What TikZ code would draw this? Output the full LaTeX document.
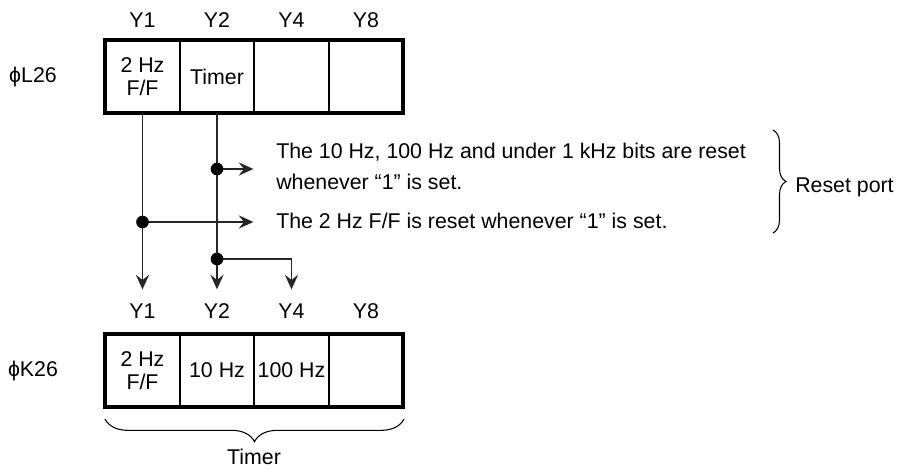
\documentclass[tikz,border=0pt]{standalone}
\usepackage{fontspec}
\setmainfont{Liberation Sans}
\usetikzlibrary{arrows.meta,decorations.pathreplacing}
\begin{document}
\begin{tikzpicture}[x=0.75pt,y=-0.75pt,
  lbl/.style={inner sep=0pt, font=\fontsize{16}{19}\selectfont},
  cell/.style={draw, line width=1.5pt, minimum width=55.9pt, minimum height=54.75pt,
    inner sep=0pt, outer sep=0pt, align=center, font=\fontsize{16}{17.25}\selectfont},
  frame/.style={line width=2.8pt},
  conn/.style={draw=black!85, line width=1.2pt},
  arr/.style={conn, -{Stealth[length=11pt,width=10pt,inset=4pt]}},
  dot/.style={circle, fill=black, inner sep=0pt, minimum size=9.5pt},
  bracestyle/.style={decorate, line width=0.8pt}
]
\useasboundingbox (0,0) rectangle (900,470);

% top register
\node[lbl] (ty1) at (142.5,20) {Y1};
\node[lbl] (ty2) at (217,20) {Y2};
\node[lbl] (ty4) at (291.5,20) {Y4};
\node[lbl] (ty8) at (366,20) {Y8};
\node[lbl] (l26) at (33,77) {ϕL26};
\node[cell] (t1) at (142.5,76.5) {2 Hz\\F/F};
\node[cell] (t2) at (217,76.5) {Timer};
\node[cell] (t3) at (291.5,76.5) {};
\node[cell] (t4) at (366,76.5) {};
\draw[frame] (t1.north west) rectangle (t4.south east);

% bottom register
\node[lbl] (by1) at (142.5,311) {Y1};
\node[lbl] (by2) at (217,311) {Y2};
\node[lbl] (by4) at (291.5,311) {Y4};
\node[lbl] (by8) at (366,311) {Y8};
\node[lbl] (k26) at (33,371) {ϕK26};
\node[cell] (b1) at (142.5,370.5) {2 Hz\\F/F};
\node[cell] (b2) at (217,370.5) {10 Hz};
\node[cell] (b3) at (291.5,370.5) {100 Hz};
\node[cell] (b4) at (366,370.5) {};
\draw[frame] (b1.north west) rectangle (b4.south east);

% texts
\node[lbl, anchor=west, align=left, font=\fontsize{16}{23.25}\selectfont] (txtA) at (276,166)
  {The 10 Hz, 100 Hz and under 1 kHz bits are reset\\whenever “1” is set.};
\node[lbl, anchor=west] (txtB) at (276,221) {The 2 Hz F/F is reset whenever “1” is set.};
\node[lbl, anchor=west] (rp) at (795,187) {Reset port};
\node[lbl] (tim) at (254,457) {Timer};

% junctions
\coordinate (j2) at (217,169);
\coordinate (j1) at (142.5,222);
\coordinate (j3) at (217,259);

% connectors
\draw[arr, shorten >=10.5pt] (t1.south) -- (by1.north);
\draw[arr, shorten >=10.5pt] (t2.south) -- (by2.north);
\draw[arr, shorten >=10.5pt] (j3) -| (by4.north);
\draw[arr, shorten >=17pt] (j2) -- (j2 -| txtA.west);
\draw[arr, shorten >=17pt] (j1) -- (j1 -| txtB.west);
\node[dot] at (j1) {};
\node[dot] at (j2) {};
\node[dot] at (j3) {};

% braces
\draw[bracestyle, decoration={brace, amplitude=9.75pt}] (773,130) -- (773,233);
\draw[bracestyle, decoration={brace, mirror, amplitude=17pt}] (105,419) -- (404,419);
\end{tikzpicture}
\end{document}
